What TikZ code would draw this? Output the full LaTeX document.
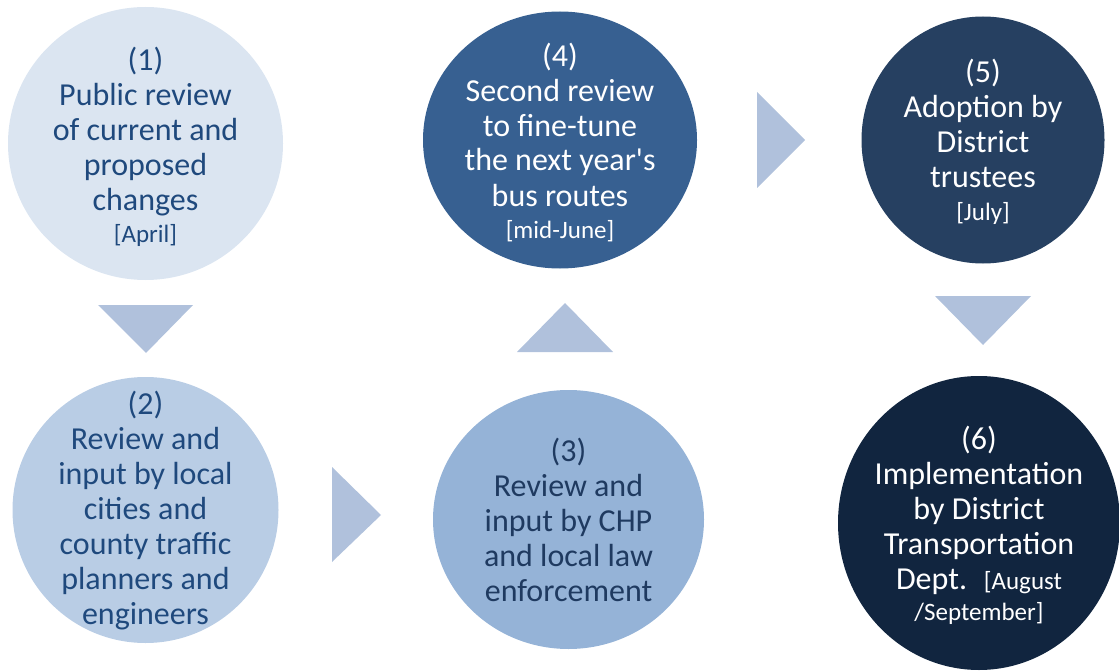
\documentclass[tikz,border=0pt]{standalone}
\usepackage{fontspec}
\setmainfont{Carlito}
\usetikzlibrary{shapes.geometric}

\definecolor{stageA}{HTML}{DBE5F1}
\definecolor{stageB}{HTML}{B9CDE5}
\definecolor{stageC}{HTML}{95B3D7}
\definecolor{stageD}{HTML}{376091}
\definecolor{stageE}{HTML}{264061}
\definecolor{stageF}{HTML}{11253F}
\definecolor{triblue}{HTML}{B0C1DC}
\definecolor{inkblue}{HTML}{1F497D}
\definecolor{inkdark}{HTML}{1F3A60}

\newcommand{\stagefont}{\fontsize{32}{35}\selectfont}
\newcommand{\datefont}{\fontsize{25}{28}\selectfont}

\tikzset{
  stage/.style={ellipse,draw=none,inner sep=0pt},
  stagetext/.style={align=center,font=\stagefont,inner sep=0pt},
  flowtri/.style={fill=triblue}
}

\begin{document}
\begin{tikzpicture}[x=1pt,y=-1pt]
  \useasboundingbox (0,0) rectangle (1119,671);
  % stages
  \node (c1) at (145.5,143.5)[stage,fill=stageA,minimum width=275pt,minimum height=273pt]{};
  \node (c2) at (145.5,510)[stage,fill=stageB,minimum width=266pt,minimum height=266pt]{};
  \node (c3) at (568.5,519.5)[stage,fill=stageC,minimum width=271pt,minimum height=259pt]{};
  \node (c4) at (560,140)[stage,fill=stageD,minimum width=274pt,minimum height=257pt]{};
  \node (c5) at (983,140)[stage,fill=stageE,minimum width=243pt,minimum height=247pt]{};
  \node (c6) at (979,523)[stage,fill=stageF,minimum width=282pt,minimum height=294pt]{};
  \node (t1) at ([yshift=-3pt]c1)[stagetext,text=inkblue]{(1)\\Public review\\of current and\\proposed\\changes\\[-3pt]{\datefont[April]}};
  \node (t2) at ([yshift=-1pt]c2)[stagetext,text=inkblue]{(2)\\Review and\\input by local\\cities and\\county traffic\\planners and\\engineers};
  \node (t3) at (c3)[stagetext,text=inkdark]{(3)\\Review and\\input by CHP\\and local law\\enforcement};
  \node (t4) at ([yshift=-2pt]c4)[stagetext,text=white]{(4)\\Second review\\to fine-tune\\the next year\textquotesingle s\\bus routes\\[-3pt]{\datefont[mid-June]}};
  \node (t5) at ([yshift=-2pt]c5)[stagetext,text=white]{(5)\\Adoption by\\District\\trustees\\[-2pt]{\datefont[July]}};
  \node (t6) at ([yshift=-2pt]c6)[stagetext,text=white]{(6)\\Implementation\\by District\\Transportation\\Dept.~ {\datefont[August}\\[-4pt]{\datefont/September]}};
  % arrows between stages
  \fill[flowtri] (98,305) -- (193,305) -- (146,353) -- cycle;
  \fill[flowtri] (332,467) -- (381,515) -- (332,562) -- cycle;
  \fill[flowtri] (517,352) -- (613,352) -- (565,303) -- cycle;
  \fill[flowtri] (757,92) -- (805,140) -- (757,188) -- cycle;
  \fill[flowtri] (935,296) -- (1031,296) -- (983,345) -- cycle;
\end{tikzpicture}
\end{document}
